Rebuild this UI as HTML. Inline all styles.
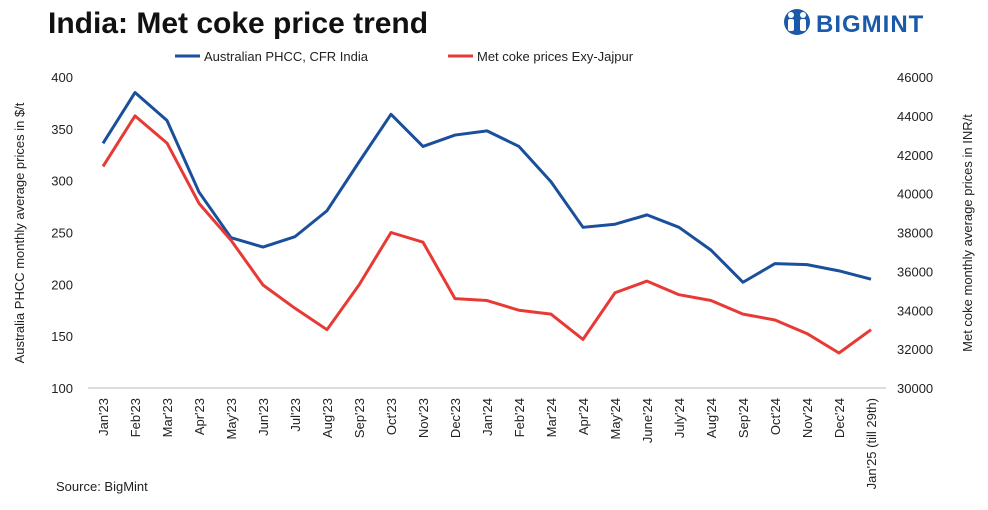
<!DOCTYPE html>
<html><head><meta charset="utf-8"><style>
body{margin:0;background:#fff;font-family:"Liberation Sans",sans-serif}
#w{position:relative;width:988px;height:510px;overflow:hidden}
</style></head><body><div id="w">
<svg id="s" width="988" height="510" xmlns="http://www.w3.org/2000/svg" font-family="Liberation Sans, sans-serif">
<text x="48" y="33" font-size="30" font-weight="bold" fill="#111">India: Met coke price trend</text>
<g>
<circle cx="797" cy="22" r="13" fill="#1a5aa8"/>
<circle cx="791" cy="15" r="3" fill="#fff"/><circle cx="803" cy="15" r="3" fill="#fff"/>
<rect x="788" y="19" width="6" height="12" rx="2" fill="#fff"/><rect x="800" y="19" width="6" height="12" rx="2" fill="#fff"/>
<text x="816" y="32" font-size="24" font-weight="bold" fill="#1a5aa8" letter-spacing="1">BIGMINT</text>
</g>
<g>
<line x1="175" y1="56" x2="200" y2="56" stroke="#1a4f9c" stroke-width="3"/>
<text x="204" y="61" font-size="13" fill="#222">Australian PHCC, CFR India</text>
<line x1="448" y1="56" x2="473" y2="56" stroke="#e83a35" stroke-width="3"/>
<text x="477" y="61" font-size="13" fill="#222">Met coke prices Exy-Jajpur</text>
</g>
<text transform="translate(24,233) rotate(-90)" text-anchor="middle" font-size="13" fill="#222">Australia PHCC monthly average prices in $/t</text>
<text transform="translate(972,233) rotate(-90)" text-anchor="middle" font-size="13" fill="#222">Met coke monthly average prices in INR/t</text>
<text x="56" y="491" font-size="13" fill="#222">Source: BigMint</text>
<g id="g"></g>
</svg></div>
<script>
const categories=["Jan'23","Feb'23","Mar'23","Apr'23","May'23","Jun'23","Jul'23","Aug'23","Sep'23","Oct'23","Nov'23","Dec'23","Jan'24","Feb'24","Mar'24","Apr'24","May'24","June'24","July'24","Aug'24","Sep'24","Oct'24","Nov'24","Dec'24","Jan'25 (till 29th)"];
const phcc=[336,385,358,289,245,236,246,271,318,364,333,344,348,333,299,255,258,267,255,233,202,220,219,213,205];
const metcoke=[41400,44000,42600,39500,37600,35300,34100,33000,35300,38000,37500,34600,34500,34000,33800,32500,34900,35500,34800,34500,33800,33500,32800,31800,33000];
const leftTicks=[100,150,200,250,300,350,400];
const rightTicks=[30000,32000,34000,36000,38000,40000,42000,44000,46000];
const NS="http://www.w3.org/2000/svg",g=document.getElementById('g');
const yTop=77,yBot=388;
const x=i=>103+i*32;
const yL=v=>yBot-(v-100)/300*(yBot-yTop);
const yR=v=>yBot-(v-30000)/16000*(yBot-yTop);
function el(t,a){const e=document.createElementNS(NS,t);for(const k in a)e.setAttribute(k,a[k]);g.appendChild(e);return e;}
const ax=el('line',{x1:88,y1:yBot,x2:886,y2:yBot,stroke:'#bbb','stroke-width':1});


leftTicks.forEach(v=>{const t=el('text',{x:73,y:yL(v)+5,'text-anchor':'end','font-size':13,fill:'#222'});t.textContent=v;

});
rightTicks.forEach(v=>{const t=el('text',{x:897,y:yR(v)+5,'font-size':13,fill:'#222'});t.textContent=v;

});
categories.forEach((c,i)=>{const t=el('text',{transform:`translate(${x(i)+5},398) rotate(-90)`,'text-anchor':'end','font-size':13,fill:'#222'});t.textContent=c;

});
const p1=el('polyline',{points:phcc.map((v,i)=>x(i)+','+yL(v)).join(' '),fill:'none',stroke:'#1a4f9c','stroke-width':3,'stroke-linejoin':'round'});


const p2=el('polyline',{points:metcoke.map((v,i)=>x(i)+','+yR(v)).join(' '),fill:'none',stroke:'#e83a35','stroke-width':3,'stroke-linejoin':'round'});


</script></body></html>
